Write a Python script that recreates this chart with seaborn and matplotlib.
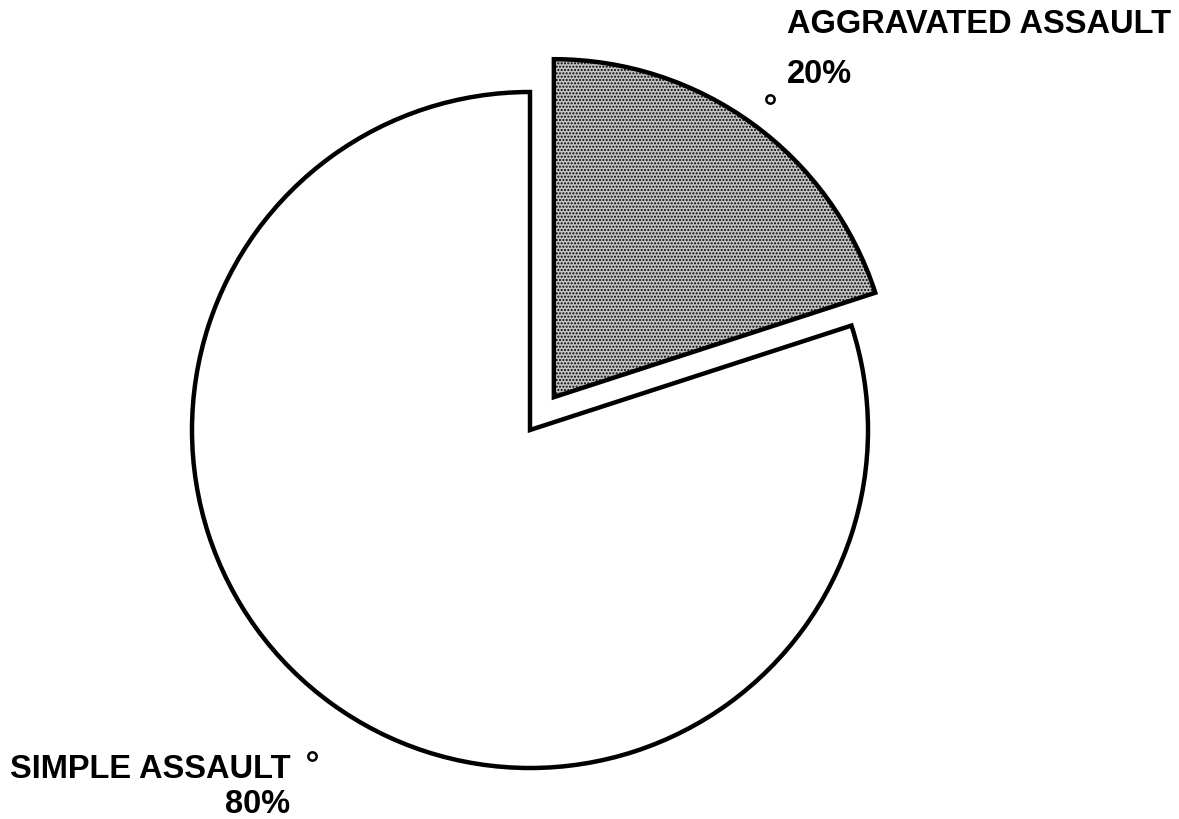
import numpy as np
import matplotlib.pyplot as plt
import seaborn as sns

# data
categories = ['AGGRAVATED ASSAULT', 'SIMPLE ASSAULT']
shares = [20, 80]
pct_labels = ['20%', '80%']
explode = [0.12, 0.0]
colors = ['#c4c4c4', 'white']

sns.set_theme(style='white')
plt.rcParams['font.family'] = ['Liberation Sans', 'DejaVu Sans']

fig = plt.figure(figsize=(11.79, 8.19), dpi=100)
ax = fig.add_axes([0, 0, 1, 1])

wedges, _ = ax.pie(
    shares,
    explode=explode,
    colors=colors,
    startangle=90,
    counterclock=False,
    radius=1.0,
    wedgeprops=dict(edgecolor='black', linewidth=3.2),
)
wedges[0].set_hatch('.....')
wedges[0].set_edgecolor('black')

# little leader dots near the mid-angle of each slice
start = 90.0
for w, share, ex, rr, shift in zip(wedges, shares, explode, [1.09, 1.16], [0, 2.2]):
    mid = np.deg2rad(start - share * 3.6 / 2 + shift)
    cx, cy = ex * np.cos(mid), ex * np.sin(mid)
    ax.plot(cx + rr * np.cos(mid), cy + rr * np.sin(mid), 'o', ms=6,
            mfc='white', mec='black', mew=1.8)
    start -= share * 3.6

txt = dict(fontsize=23.5, fontweight='bold', color='black')
ax.text(0.76, 1.247, categories[0], ha='left', va='top', **txt)
ax.text(0.76, 1.098, pct_labels[0], ha='left', va='top', **txt)
ax.text(-1.538, -0.958, categories[1], ha='left', va='top', **txt)
ax.text(-0.71, -1.062, pct_labels[1], ha='right', va='top', **txt)

ax.set_xlim(-530 / 338, (1179 - 530) / 338)
ax.set_ylim(-(819 - 430) / 338, 430 / 338)
ax.set_aspect('equal')
ax.axis('off')

fig.savefig('out.png', dpi=100)
